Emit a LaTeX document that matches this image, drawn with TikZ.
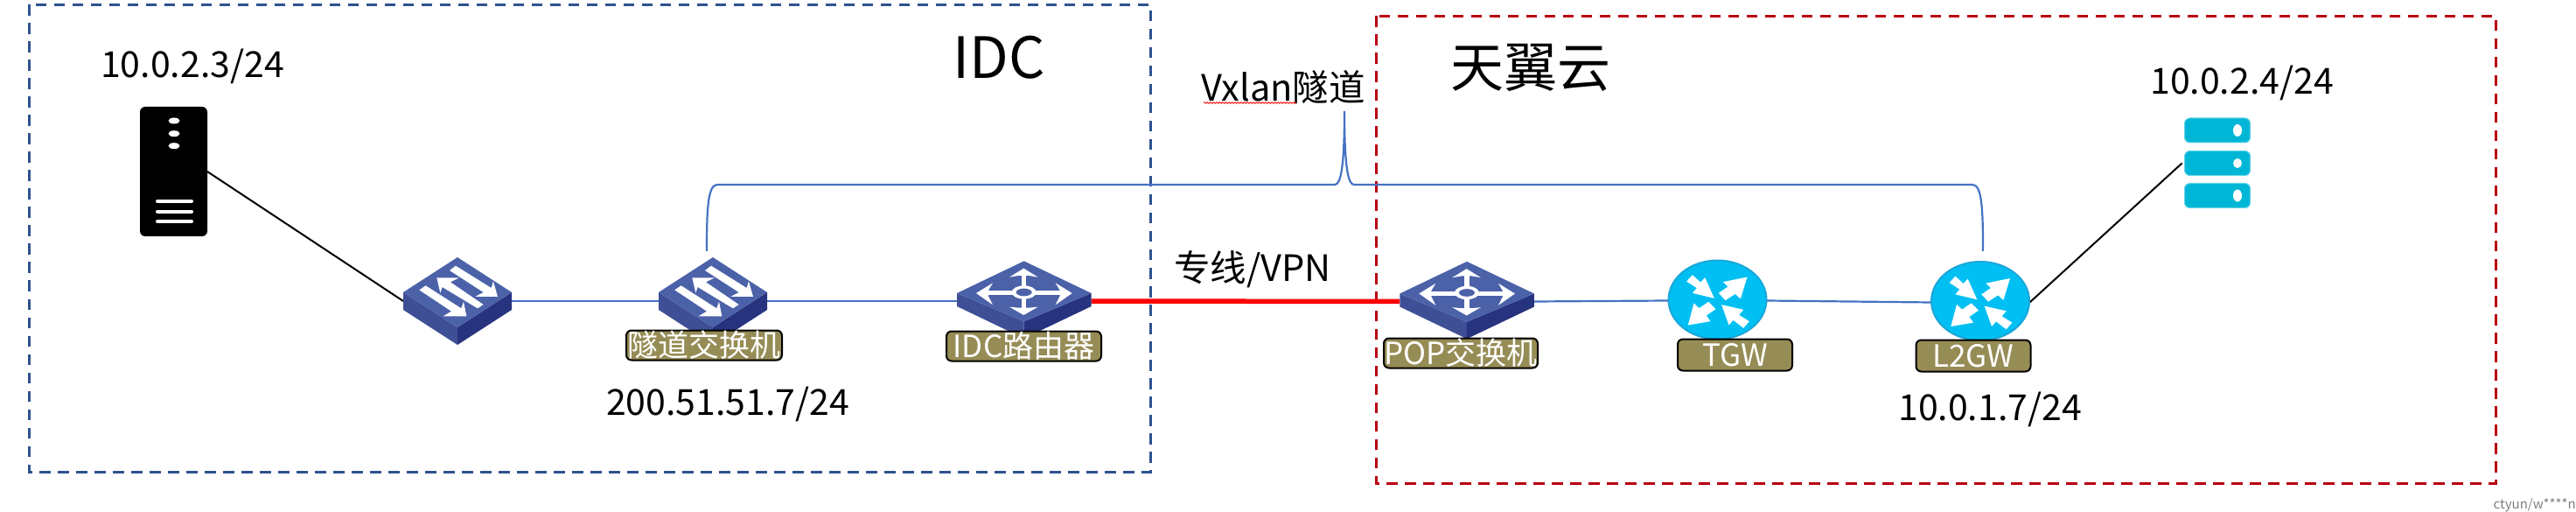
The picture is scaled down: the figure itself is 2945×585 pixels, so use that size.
\documentclass[tikz,border=0pt]{standalone}
\usepackage{fontspec}
\setmainfont{Noto Sans CJK SC}
\usetikzlibrary{decorations.pathmorphing}
\definecolor{idcblue}{HTML}{2F528F}
\definecolor{cloudred}{HTML}{B80012}
\definecolor{linkblue}{HTML}{4472C4}
\definecolor{tagolive}{HTML}{968C55}
\definecolor{devtop}{HTML}{4B62A9}
\definecolor{devleft}{HTML}{3F4F96}
\definecolor{devright}{HTML}{27337F}
\definecolor{rtfill}{HTML}{00BFF3}
\definecolor{rtedge}{HTML}{1AA6D8}
\definecolor{stfill}{HTML}{00B6D6}
\definecolor{stedge}{HTML}{66D4E8}
\tikzset{
  anchorbox/.style={inner sep=0pt,outer sep=0pt,minimum width=#1},
  region/.style={dash pattern=on 12.5pt off 8.5pt,line width=3pt},
  blueline/.style={linkblue,line width=2.2pt},
  blackline/.style={black,line width=2pt},
  txt/.style={inner sep=0pt,outer sep=0pt,font=\fontsize{41}{41}\selectfont,text=black},
  tag/.style={draw=black,line width=2pt,rounded corners=6pt,fill=tagolive,text=white,inner sep=0pt,
     minimum height=34pt,font=\fontsize{35}{35}\selectfont},
  switchicon/.pic={
    \fill[devleft] (-62,-11) -- (0,29) -- (0,49) -- (-62,9) -- cycle;
    \fill[devright] (62,-11) -- (0,29) -- (0,49) -- (62,9) -- cycle;
    \fill[devtop] (0,-51) -- (62,-11) -- (0,29) -- (-62,-11) -- cycle;
    \begin{scope}[shift={(-83,-65.33)},x=.3333pt,y=-.3333pt]
      \fill[white] (243,72) -- (365,148) -- (372,125) -- (387,178) -- (310,178) -- (338,163) -- (222,88) -- cycle;
      \fill[white] (338,205) -- (318,218) -- (197,145) -- (190,165) -- (178,113) -- (255,113) -- (225,128) -- cycle;
      \fill[white] (140,140) -- (262,218) -- (270,195) -- (280,245) -- (200,245) -- (228,228) -- (118,155) -- cycle;
    \end{scope}
  },
  routericon/.pic={
    \begin{scope}[shift={(-90.7,-65)},x=.3333pt,y=-.3333pt]
      \fill[devleft] (42,165) -- (272,262) -- (272,320) -- (42,210) -- cycle;
      \fill[devright] (503,165) -- (272,262) -- (272,320) -- (503,210) -- cycle;
      \fill[devtop] (272,55) -- (503,165) -- (272,262) -- (42,165) -- cycle;
      \fill[white] (263,100) rectangle (280,222);
      \fill[white] (125,157) rectangle (420,172);
      \fill[white] (271,80) -- (320,110) -- (290,105) -- (252,105) -- (222,110) -- cycle;
      \fill[white] (271,240) -- (320,212) -- (290,215) -- (252,215) -- (222,212) -- cycle;
      \fill[white] (108,165) -- (165,130) -- (150,155) -- (150,175) -- (165,205) -- cycle;
      \fill[white] (437,165) -- (380,130) -- (395,155) -- (395,175) -- (380,205) -- cycle;
      \fill[white] (272,162) ellipse [x radius=42,y radius=23];
      \fill[devtop] (272,162) ellipse [x radius=27,y radius=13];
    \end{scope}
  },
  roundicon/.pic={
    \fill[rtfill,draw=rtedge,line width=2pt] (0,0) ellipse [x radius=56,y radius=45];
    \begin{scope}[shift={(-73.67,-62.67)},x=.3333pt,y=-.3333pt]
      \fill[white] (135,103) -- (163,128) -- (178,112) -- (210,183) -- (135,165) -- (150,148) -- (115,125) -- cycle;
      \fill[white] (323,110) -- (300,185) -- (282,168) -- (248,190) -- (225,165) -- (257,143) -- (240,127) -- cycle;
      \fill[white] (120,275) -- (140,200) -- (158,217) -- (190,195) -- (215,220) -- (183,242) -- (197,262) -- cycle;
      \fill[white] (235,205) -- (310,222) -- (295,240) -- (330,262) -- (310,285) -- (275,258) -- (260,275) -- cycle;
    \end{scope}
  },
}
\begin{document}
\begin{tikzpicture}[x=1pt,y=-1pt]
\useasboundingbox[fill=white] (0,0) rectangle (2945,585);

% regions
\draw[region,idcblue] (33,5.5) rectangle (1315,539.5);
\draw[region,cloudred] (1573,18.5) rectangle (2853,552.5);

% anchors for devices
\node[anchorbox=77pt,minimum height=148pt] (srv) at (198.5,196) {};
\node[anchorbox=124pt,minimum height=100pt] (sw1) at (523,344) {};
\node[anchorbox=124pt,minimum height=100pt] (sw2) at (815,344) {};
\node[anchorbox=154pt,minimum height=88pt] (idcr) at (1170.7,344) {};
\node[anchorbox=154pt,minimum height=88pt] (pop) at (1677,344.5) {};
\node[anchorbox=113pt,minimum height=91pt] (tgw) at (1963.5,343.5) {};
\node[anchorbox=113pt,minimum height=91pt] (l2gw) at (2264,345.5) {};
\node[anchorbox=79pt,minimum height=103pt] (stor) at (2534,186.5) {};

\coordinate (tunA) at (808,287);
\coordinate (tunB) at (2267,287);
\coordinate (tunTip) at (1537,127);

% connectors
\draw[blackline] (srv.east) -- (sw1.west);
\draw[blueline] (sw1.east) -- (sw2.west);
\draw[blueline] (sw2.east) -- (idcr.west);
\draw[red,line width=5.5pt] (idcr.east) -- (pop.west);
\draw[blueline] (pop.east) -- (tgw.west);
\draw[blueline] (tgw.east) -- (l2gw.west);
\draw[blackline] (l2gw.east) -- (stor.west);
\draw[blueline] (tunA) .. controls (808,240) and (809,211) .. (820,211) -- (1526,211)
   .. controls (1533,211) and (1537,190) .. (tunTip)
   .. controls (1537,190) and (1541,211) .. (1548,211) -- (2255,211)
   .. controls (2266,211) and (2267,240) .. (tunB);

% server
\fill[black,rounded corners=6pt] (160,122) rectangle (237,270);
\foreach \yy in {138,152.7,166.7}
  \fill[white] (199,\yy) ellipse [x radius=6.5,y radius=3.5];
\foreach \yy in {230,241.7,253}
  \draw[white,line width=4pt,line cap=round] (180,\yy) -- (219,\yy);

% devices
\pic[yshift=-1pt] at (sw1) {switchicon};
\pic[yshift=-1pt] at (sw2) {switchicon};
\pic[yshift=-1pt] at (idcr) {routericon};
\pic[yshift=-1pt] at (pop) {routericon};
\pic[yshift=1pt] at (tgw) {roundicon};
\pic[yshift=1.5pt] at (l2gw) {roundicon};

% storage
\foreach \yy/\ry in {149/7,186.5/5.5,223.5/7}{
  \fill[stfill,draw=stedge,line width=1pt,rounded corners=6pt] (2497.5,\yy-14) rectangle (2572.5,\yy+14);
  \fill[white] (2558,\yy) ellipse [x radius=5,y radius=\ry];
}

% tags
\node[tag,minimum width=178pt] (tagtun) at (805,394.5) {隧道交换机};
\node[tag,minimum width=177pt] (tagidc) at (1170.5,395.5) {IDC路由器};
\node[tag,minimum width=176pt] (tagpop) at (1670,403.5) {POP交换机};
\node[tag,minimum width=131pt,minimum height=36pt] (tagtgw) at (1983.5,405.5) {TGW};
\node[tag,minimum width=131pt,minimum height=36pt] (tagl2) at (2256,406.5) {L2GW};

% texts
\node[txt] (ipA) at (220,76) {10.0.2.3/24};
\node[txt] (ipB) at (832,462) {200.51.51.7/24};
\node[txt] (ipC) at (2563,95) {10.0.2.4/24};
\node[txt] (ipD) at (2275,468) {10.0.1.7/24};
\node[txt,font=\fontsize{65}{65}\selectfont] (lidc) at (1142,66) {IDC};
\node[txt,font=\fontsize{61}{61}\selectfont] (lcloud) at (1750,77) {天翼云};
\node[txt,font=\fontsize{41.5}{41.5}\selectfont] (lvx) at (1467,100) {Vxlan隧道};
\node[txt,font=\fontsize{41.5}{41.5}\selectfont] (lvpn) at (1432,308) {专线/VPN};
\draw[red,line width=.8pt,decorate,decoration={snake,amplitude=.8pt,segment length=3.5pt}] (1376,117.5) -- (1482,117.5);
\node[inner sep=0pt,anchor=east,text=gray,font=\fontsize{15}{15}\selectfont] (wm) at (2945,577) {ctyun/w****n};
\end{tikzpicture}
\end{document}
